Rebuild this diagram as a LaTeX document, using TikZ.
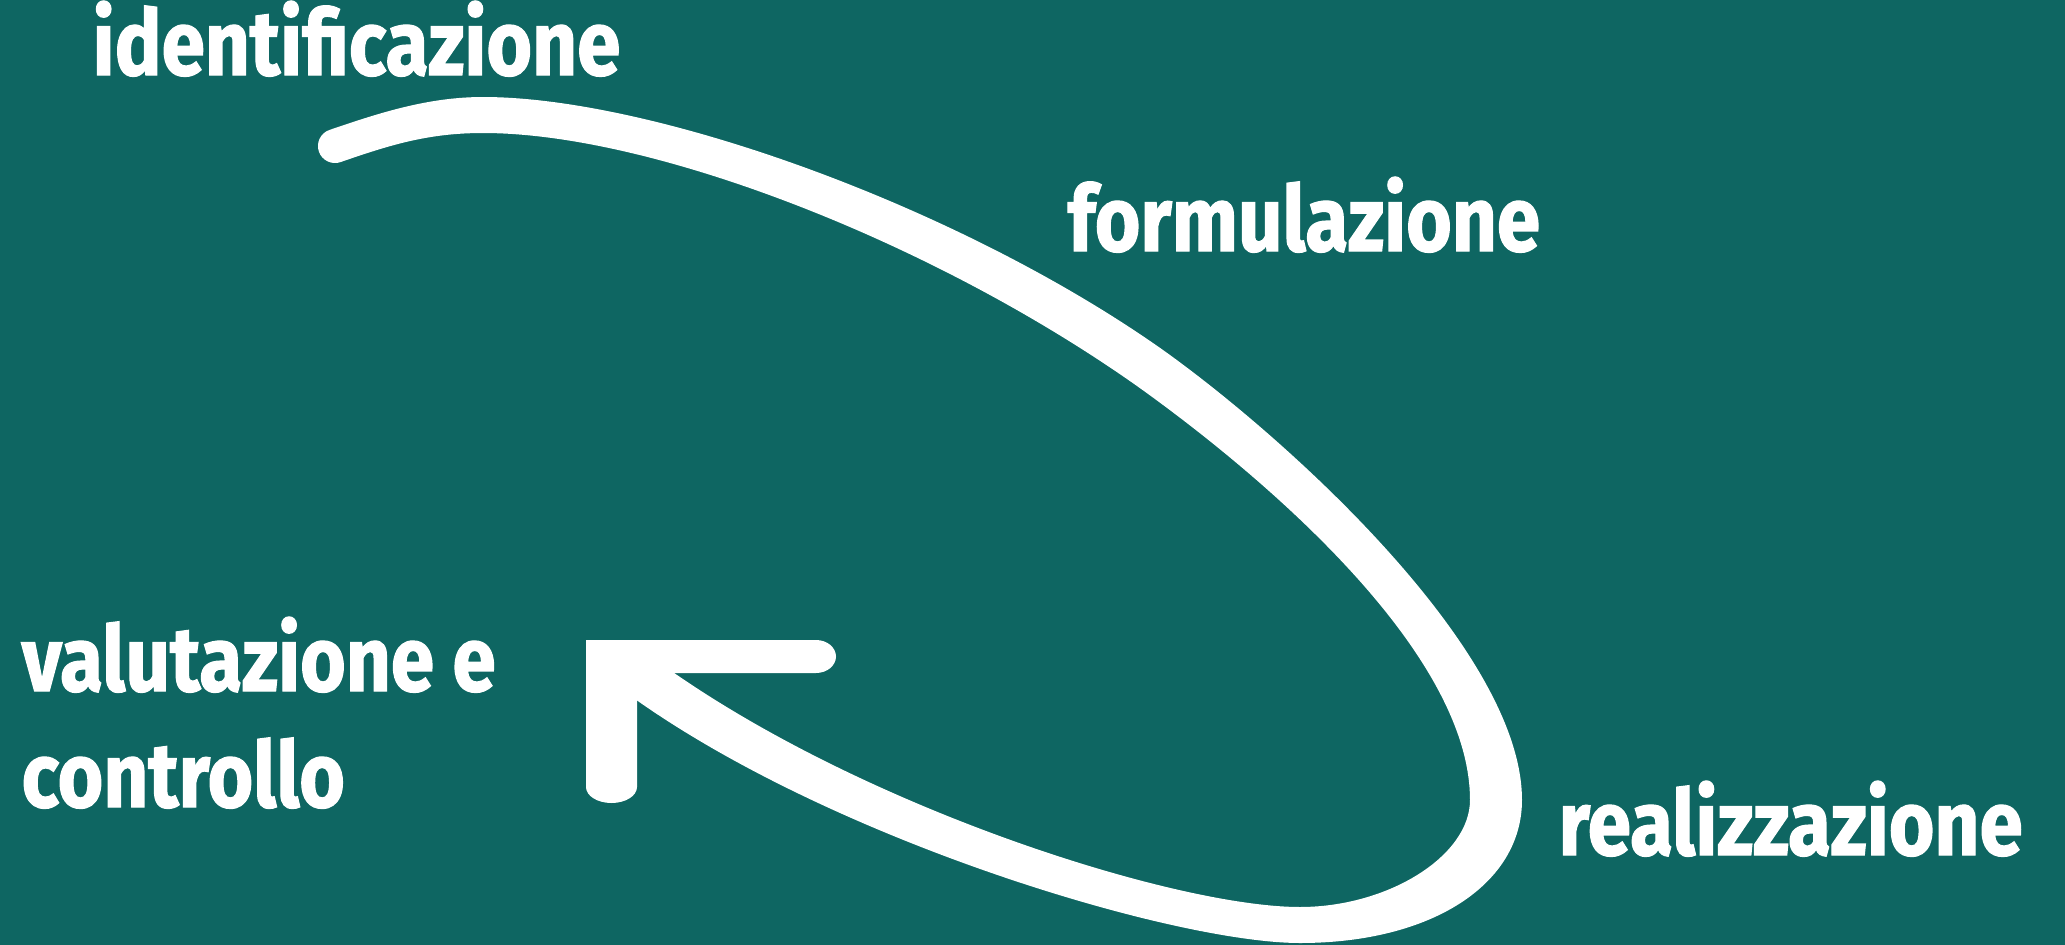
\documentclass[tikz,border=0pt]{standalone}
\usepackage{fontspec}
\newfontfamily\labelfont{Fira Sans}[FakeStretch=0.855, BoldFeatures={FakeBold=1.3}]
\definecolor{bgteal}{HTML}{0E6662}
\tikzset{
  phase/.style={
    anchor=base west,
    inner sep=0pt,
    text=white,
    font=\labelfont\bfseries\fontsize{26}{32}\selectfont,
  }
}

\begin{document}
\begin{tikzpicture}[x=0.01cm, y=-0.01cm]
  \useasboundingbox (0, 0) rectangle (2065, 945);
  \fill[bgteal] (0, 0) rectangle (2065, 945);

  % the cycle: inner edge back to the tip, then the outer edge
  \fill[white] (636, 645)
    .. controls (834, 799) and (1170, 907) .. (1300, 907)
    .. controls (1388, 907) and (1470, 856) .. (1470, 800)
    .. controls (1470, 650) and (1259, 473) .. (1137, 386)
    .. controls (933, 242) and (653, 133) .. (483, 133)
    .. controls (428, 133) and (390, 145) .. (340.5, 162.1)
    arc[start angle=71, end angle=251, radius=17]
    .. controls (379, 113) and (428, 97) .. (483, 97)
    .. controls (653, 97) and (959, 206) .. (1163, 350)
    .. controls (1285, 437) and (1522, 650) .. (1522, 800)
    .. controls (1522, 884) and (1432, 943) .. (1300, 943)
    .. controls (1170, 943) and (806, 833) .. (608, 679)
    -- cycle;

  % open arrow head
  \fill[white] (586, 640) -- (816, 640)
    arc[start angle=-90, end angle=90, x radius=20, y radius=16.5]
    -- (637, 673) -- (637, 787)
    arc[start angle=0, end angle=180, x radius=25.5, y radius=16]
    -- cycle;

  \node[phase] (ident) at (92, 75) {identificazione};
  \node[phase] (formul) at (1067, 251) {formulazione};
  \node[phase] (realiz) at (1558, 855) {realizzazione};
  \node[phase] (valut) at (21, 691) {valutazione e};
  \node[phase] (contr) at (21, 807) {controllo};
\end{tikzpicture}
\end{document}
